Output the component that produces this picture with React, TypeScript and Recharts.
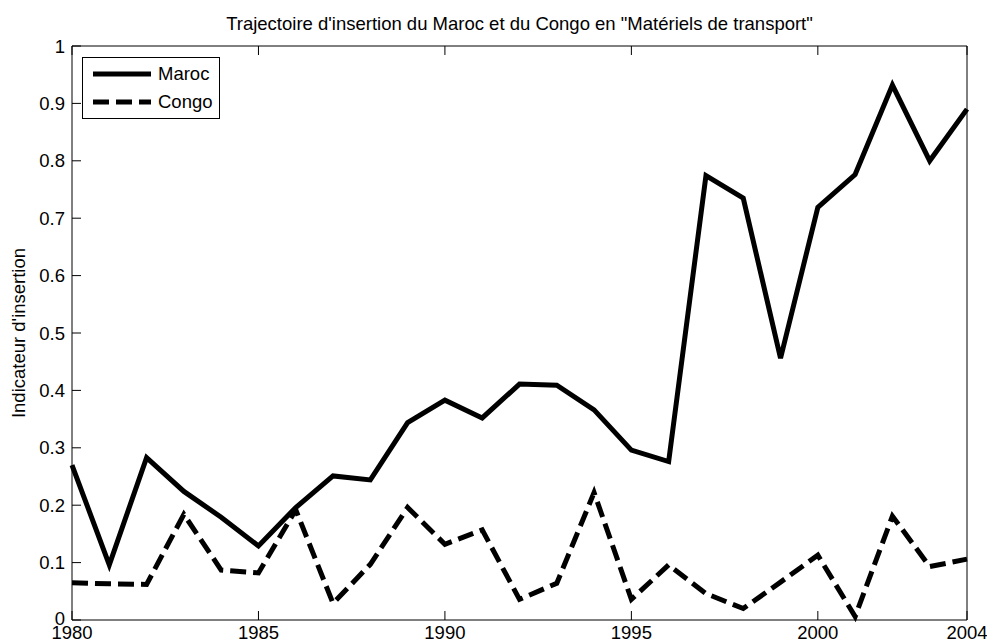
import React from "react";
import { LineChart, Line, XAxis, YAxis, Legend } from "recharts";

// ---------------------------------------------------------------------------
// Data
// ---------------------------------------------------------------------------

const years = [
  1980, 1981, 1982, 1983, 1984, 1985, 1986, 1987, 1988, 1989, 1990, 1991, 1992,
  1993, 1994, 1995, 1996, 1997, 1998, 1999, 2000, 2001, 2002, 2003, 2004,
];

const maroc = [
  0.27, 0.096, 0.283, 0.224, 0.179, 0.129, 0.196, 0.251, 0.244, 0.344, 0.383,
  0.352, 0.411, 0.409, 0.366, 0.296, 0.276, 0.774, 0.735, 0.456, 0.719, 0.776,
  0.932, 0.8, 0.89,
];

const congo = [
  0.065, 0.063, 0.062, 0.184, 0.087, 0.082, 0.192, 0.029, 0.097, 0.196, 0.132,
  0.157, 0.036, 0.064, 0.222, 0.036, 0.096, 0.046, 0.02, 0.066, 0.113, 0.006,
  0.181, 0.093, 0.106,
];

const seriesNames = ["Maroc", "Congo"];
const xTicks = [1980, 1985, 1990, 1995, 2000, 2004];
const yTicks = [0, 0.1, 0.2, 0.3, 0.4, 0.5, 0.6, 0.7, 0.8, 0.9, 1];

const title = 'Trajectoire d\'insertion du Maroc et du Congo en "Matériels de transport"';
const yLabel = "Indicateur d'insertion";

const data = years.map((year, i) => ({ year, Maroc: maroc[i], Congo: congo[i] }));

// ---------------------------------------------------------------------------
// Layout
// ---------------------------------------------------------------------------

const W = 987;
const H = 642;
const FONT = "'Liberation Sans', Arial, sans-serif";
const FS = 18.5;
const TICK = 9;
const LW = 5;
const DASH = "16 7";

// ticks point inwards, matlab style
function BottomTick({ x, y, payload }: any) {
  return (
    <g>
      <line x1={x} y1={y} x2={x} y2={y - TICK} stroke="#000" />
      <text x={x} y={y + 19} textAnchor="middle" fontSize={FS} fill="#000" fontFamily={FONT}>
        {payload.value}
      </text>
    </g>
  );
}

function TopTick({ x, y }: any) {
  return <line x1={x} y1={y} x2={x} y2={y + TICK} stroke="#000" />;
}

function LeftTick({ x, y, payload }: any) {
  // the "0" label sits a little higher so it clears the 1980 label
  const dy = payload.value === 0 ? 4.5 : 6.5;
  return (
    <g>
      <line x1={x} y1={y} x2={x + TICK} y2={y} stroke="#000" />
      <text x={x - 7} y={y + dy} textAnchor="end" fontSize={FS} fill="#000" fontFamily={FONT}>
        {String(payload.value)}
      </text>
    </g>
  );
}

function RightTick({ x, y }: any) {
  return <line x1={x} y1={y} x2={x - TICK} y2={y} stroke="#000" />;
}

function LegendBox({ payload }: any) {
  const items = [...(payload || [])].sort(
    (a: any, b: any) => seriesNames.indexOf(a.value) - seriesNames.indexOf(b.value)
  );
  return (
    <div
      style={{
        border: "1.5px solid #000",
        background: "#fff",
        width: 138,
        height: 62,
        boxSizing: "border-box",
        position: "relative",
        fontFamily: FONT,
        fontSize: FS,
      }}
    >
      {items.map((p: any, i: number) => (
        <div
          key={p.value}
          style={{ position: "absolute", left: 10, top: 5 + i * 28, height: 22, display: "flex", alignItems: "center" }}
        >
          <svg width={58} height={22}>
            <line
              x1={0}
              y1={11}
              x2={58}
              y2={11}
              stroke="#000"
              strokeWidth={LW}
              strokeDasharray={p.payload?.strokeDasharray}
            />
          </svg>
          <span style={{ marginLeft: 7 }}>{p.value}</span>
        </div>
      ))}
    </div>
  );
}

export default function App() {
  return (
    <div style={{ position: "absolute", left: 0, top: 0, width: W, height: H, background: "#fff", fontFamily: FONT }}>
      <div
        style={{
          position: "absolute",
          left: 72,
          width: 895,
          top: 13,
          textAlign: "center",
          fontSize: FS,
          lineHeight: "21px",
          whiteSpace: "nowrap",
        }}
      >
        {title}
      </div>
      <div
        style={{
          position: "absolute",
          left: 19,
          top: 333,
          transform: "translate(-50%, -50%) rotate(-90deg)",
          fontSize: FS,
          whiteSpace: "nowrap",
        }}
      >
        {yLabel}
      </div>
      <LineChart width={W} height={H} data={data} margin={{ top: 0, right: 0, bottom: 0, left: 0 }}>
        <XAxis
          dataKey="year"
          type="number"
          domain={[1980, 2004]}
          ticks={xTicks}
          height={22}
          tickSize={0}
          tickMargin={0}
          tickLine={false}
          axisLine={{ stroke: "#000" }}
          tick={BottomTick}
          interval={0}
        />
        <XAxis
          xAxisId="top"
          orientation="top"
          dataKey="year"
          type="number"
          domain={[1980, 2004]}
          ticks={xTicks}
          height={46}
          tickSize={0}
          tickMargin={0}
          tickLine={false}
          axisLine={{ stroke: "#000" }}
          tick={TopTick}
          interval={0}
        />
        <YAxis
          type="number"
          domain={[0, 1]}
          ticks={yTicks}
          width={72}
          tickSize={0}
          tickMargin={0}
          tickLine={false}
          axisLine={{ stroke: "#000" }}
          tick={LeftTick}
          interval={0}
        />
        <YAxis
          yAxisId="right"
          orientation="right"
          type="number"
          domain={[0, 1]}
          ticks={yTicks}
          width={20}
          tickSize={0}
          tickMargin={0}
          tickLine={false}
          axisLine={{ stroke: "#000" }}
          tick={RightTick}
          interval={0}
        />
        <Legend
          layout="vertical"
          align="center"
          verticalAlign="middle"
          content={LegendBox}
          wrapperStyle={{ position: "absolute", left: 82, top: 57, width: 138 }}
        />
        <Line
          dataKey="Maroc"
          stroke="#000"
          strokeWidth={LW}
          dot={false}
          activeDot={false}
          type="linear"
          isAnimationActive={false}
        />
        <Line
          dataKey="Congo"
          stroke="#000"
          strokeWidth={LW}
          strokeDasharray={DASH}
          dot={false}
          activeDot={false}
          type="linear"
          isAnimationActive={false}
        />
      </LineChart>
    </div>
  );
}
